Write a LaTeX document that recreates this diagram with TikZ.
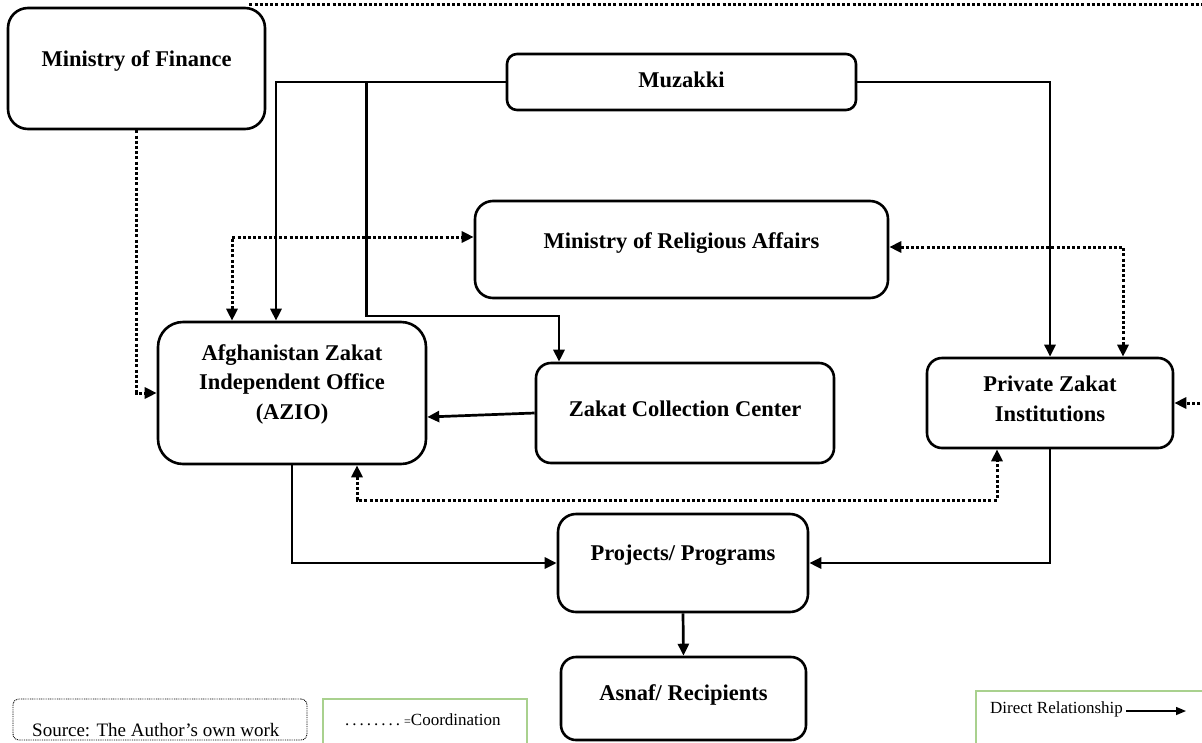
\documentclass[tikz,border=0pt]{standalone}
\usepackage{fontspec}
\setmainfont{Liberation Serif}
\usetikzlibrary{arrows.meta,calc}
\definecolor{lgreen}{HTML}{A9D18E}
\begin{document}
\begin{tikzpicture}[x=1pt,y=-1pt,
  box/.style={draw, line width=2.6pt, rounded corners=#1, inner sep=0pt},
  box/.default=15pt,
  btxt/.style={font=\bfseries\fontsize{22.5}{29.5}\selectfont, align=center, inner sep=0pt},
  solidline/.style={line width=2.7pt},
  dotline/.style={line width=3pt, dash pattern=on 3pt off 2.2pt},
  arrowone/.style={-{Triangle[length=12pt,width=11pt]}},
  arrowtwo/.style={{Triangle[length=12pt,width=11pt]}-{Triangle[length=12pt,width=11pt]}},
  legtxt/.style={anchor=base west, inner sep=0pt, font=\fontsize{#1}{#1}\selectfont},
  legtxt/.default=17,
  greenbox/.style={draw=lgreen, line width=1.3pt, inner sep=0pt}
]
\useasboundingbox (0,0) rectangle (1202,742);

% ---------- boxes ----------
\node[box=20pt, minimum width=257pt, minimum height=121pt] (mof) at (136.5,68.5) {};
\node[btxt] (mofT) at (136.5,61) {Ministry of Finance};

\node[box=10pt, minimum width=349pt, minimum height=56pt] (muz) at (681.5,82) {};
\node[btxt] (muzT) at (681.5,80) {Muzakki};

\node[box=18pt, minimum width=413pt, minimum height=97pt] (mra) at (681.5,249.5) {};
\node[btxt] (mraT) at (681.5,243) {Ministry of Religious Affairs};

\node[box=25pt, minimum width=268pt, minimum height=142pt] (azio) at (292,393) {};
\node[btxt] (azioT) at (292,384) {Afghanistan Zakat\\Independent Office\\(AZIO)};

\node[box=15pt, minimum width=298pt, minimum height=100pt] (zcc) at (685,413) {};
\node[btxt] (zccT) at (685,409) {Zakat Collection Center};

\node[box=15pt, minimum width=246pt, minimum height=90pt] (pzi) at (1050,403) {};
\node[btxt] (pziT) at (1050,399) {Private Zakat\\Institutions};

\node[box=18pt, minimum width=250pt, minimum height=98pt] (pp) at (683,563) {};
\node[btxt] (ppT) at (683,555) {Projects/ Programs};

\node[box=15pt, minimum width=245pt, minimum height=83pt] (ar) at (683.5,698.5) {};
\node[btxt] (arT) at (683.5,695) {Asnaf/ Recipients};

% ---------- direct relationships ----------
\coordinate (tj) at ([xshift=-139pt]muz.west);
\draw[solidline, arrowone] (muz.west) -| ([xshift=-16pt]azio.north);
\draw[solidline, arrowone] (tj) -- ++(0,234) -| ([xshift=-126pt]zcc.north);
\draw[solidline, arrowone] (muz.east) -| (pzi.north);
\draw[solidline, arrowone] (zcc.west) -- ([yshift=-24pt]azio.east);
\draw[solidline, arrowone] (azio.south) |- (pp.west);
\draw[solidline, arrowone] (pzi.south) |- (pp.east);
\draw[solidline, arrowone] (pp.south) -- (ar.north);

% ---------- coordination ----------
\coordinate (mofc) at ([xshift=-17pt,yshift=2pt]mof.north east);
\draw[dotline, arrowone] (mofc) -- ++(960,0) |- (pzi.east);
\draw[dotline, arrowone] (mof.south) |- (azio.west);
\draw[dotline, arrowtwo] ([xshift=-60pt]azio.north) |- ([yshift=12.5pt]mra.west);
\draw[dotline, arrowtwo] ([yshift=2.5pt]mra.east) -| ([xshift=73pt]pzi.north);
\draw[dotline, arrowtwo] ([xshift=65pt]azio.south) -- ++(0,35) -| ([xshift=-53pt]pzi.south);

% ---------- legends ----------
\node[draw, line width=0.9pt, dash pattern=on 0.9pt off 0.9pt, rounded corners=6pt,
      minimum width=294pt, minimum height=41pt, inner sep=0pt] (src) at (160,719.5) {};
\node[legtxt=19] (srcT) at (32,736) {Source: The Author’s own work};

\node[greenbox, minimum width=204pt, minimum height=55pt] (crd) at (425,726.5) {};
\node[legtxt=17] (crdT) at (345,725) {.\hspace{3pt}.\hspace{3pt}.\hspace{3pt}.\hspace{3pt}.\hspace{3pt}.\hspace{3pt}.\hspace{3pt}.\hspace{4pt}{\fontsize{12}{12}\selectfont =}Coordination};

\node[greenbox, minimum width=240pt, minimum height=60pt] (dir) at (1096,721) {};
\node[legtxt=17] (dirT) at (990,713) {Direct Relationship};
\coordinate (dA) at (1126,711);
\coordinate (dB) at (1186,711);
\draw[line width=1.4pt, -{Triangle[length=10pt,width=8pt]}] (dA) -- (dB);
\end{tikzpicture}
\end{document}
